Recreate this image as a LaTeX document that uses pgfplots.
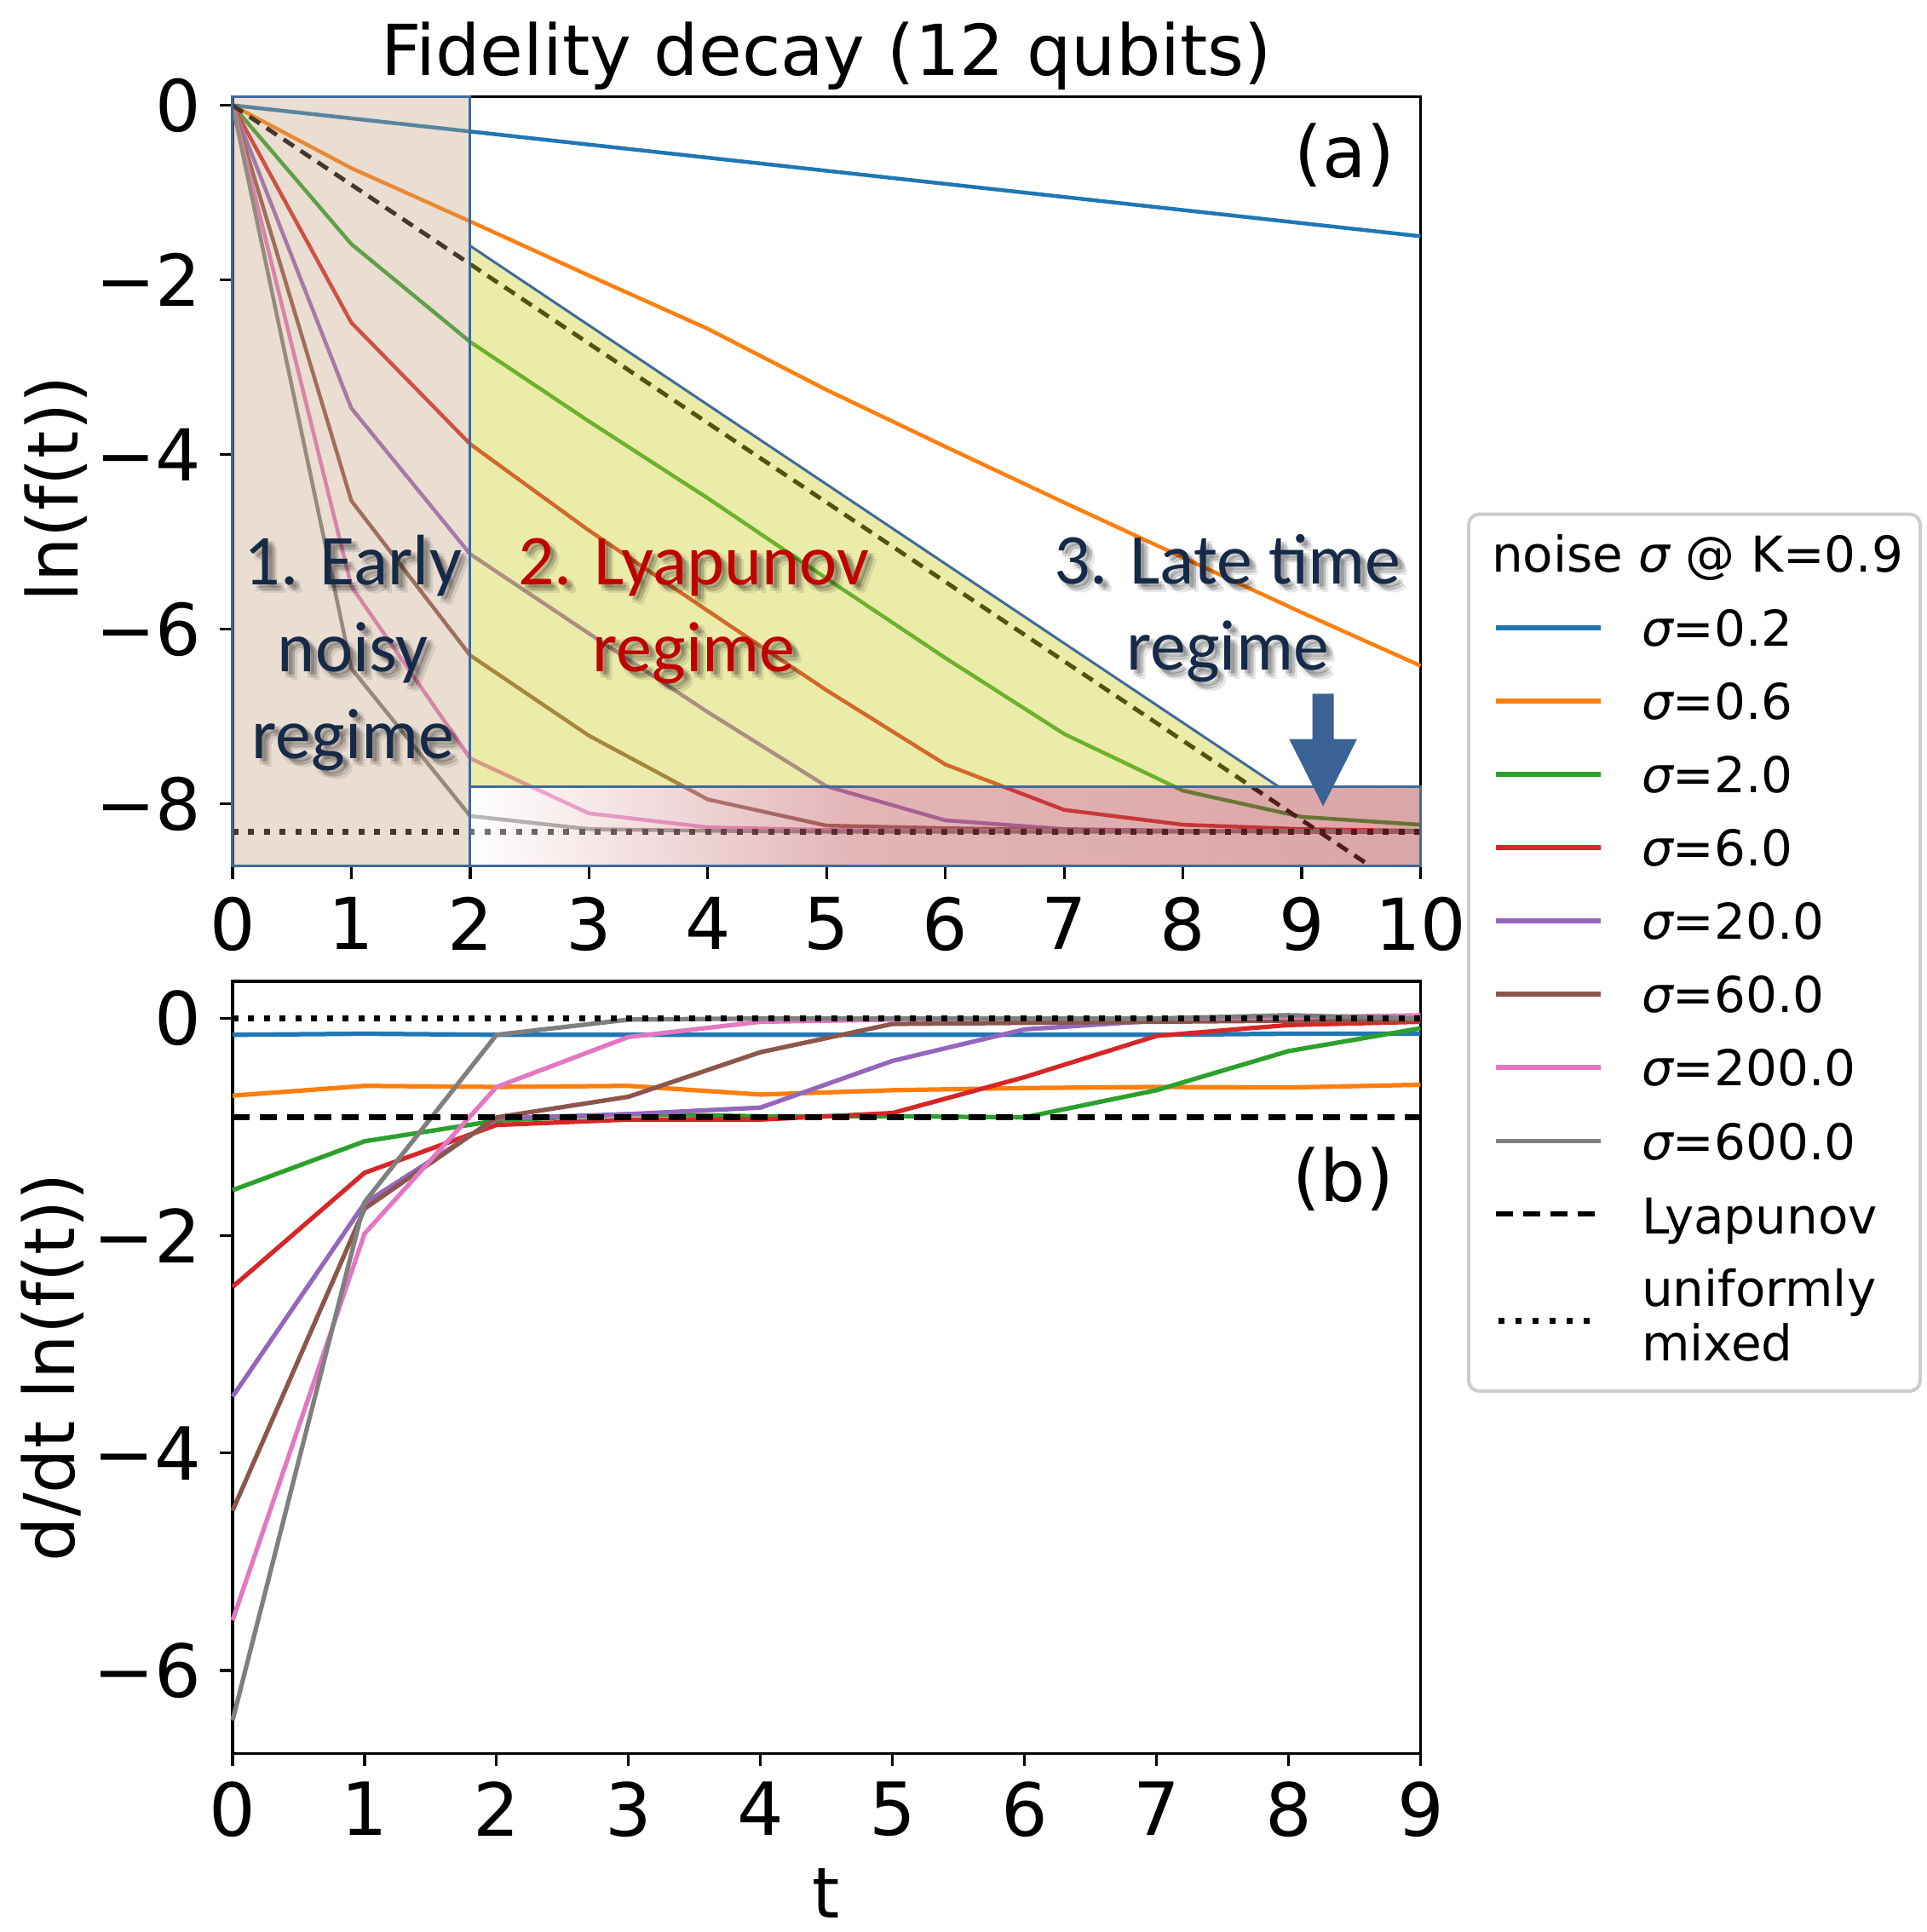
\documentclass[border=0pt]{standalone}
\usepackage{pgfplots}
\pgfplotsset{compat=1.18}
\usepackage{pgfplotstable}
\usepackage{fontspec}
\setmainfont{DejaVu Sans}
\newfontfamily\calibri{Carlito}

\definecolor{c0}{HTML}{1F77B4}
\definecolor{c1}{HTML}{FF7F0E}
\definecolor{c2}{HTML}{2CA02C}
\definecolor{c3}{HTML}{D62728}
\definecolor{c4}{HTML}{9467BD}
\definecolor{c5}{HTML}{8C564B}
\definecolor{c6}{HTML}{E377C2}
\definecolor{c7}{HTML}{7F7F7F}
\definecolor{bblue}{RGB}{62,106,156}
\definecolor{tanf}{RGB}{195,158,125}
\definecolor{yelf}{RGB}{205,205,43}
\definecolor{navy}{RGB}{22,42,72}
\definecolor{pptred}{RGB}{192,0,0}
\definecolor{arrowc}{RGB}{58,98,148}
\definecolor{legedge}{RGB}{204,204,204}

\pgfdeclarehorizontalshading{redgrad}{100bp}{rgb(0bp)=(1,1,1); rgb(25bp)=(1,1,1); rgb(45bp)=(0.76,0.36,0.38); rgb(75bp)=(0.68,0.22,0.22); rgb(100bp)=(0.68,0.22,0.22)}

\newcommand{\tickfontA}{\fontsize{16.8}{20}\selectfont}
\newcommand{\tickfontB}{\fontsize{17.2}{20}\selectfont}
\newcommand{\labfont}{\fontsize{16.5}{20}\selectfont}
\newcommand{\legfont}{\fontsize{11.6}{14}\selectfont}
\newcommand{\regfont}{\calibri\fontsize{16.8}{20}\selectfont}

% #1 x (pt), #2 y baseline (pt), #3 colour, #4 text
\newcommand{\stext}[4]{%
  \foreach \dx/\dy/\op in {0.9/-0.9/0.16, 1.5/-1.5/0.13, 2.1/-2.1/0.09, 1.6/-0.7/0.08, 0.7/-1.7/0.08}{%
    \node[anchor=base, inner sep=0pt, text=black, text opacity=\op, font=\regfont] at ({#1pt+\dx pt},{#2pt+\dy pt}) {#4};
  }%
  \node[anchor=base, inner sep=0pt, text=#3, font=\regfont] at (#1pt,#2pt) {#4};
}

% ln f(t) (panel a)
\pgfplotstableread{
t  s02    s06    s2     s6     s20    s60    s200   s600
0  0.00   0.00   0.00   0.00   0.00   0.00   0.00   0.00
1  -0.15  -0.72  -1.59  -2.49  -3.47  -4.53  -5.51  -6.45
2  -0.30  -1.33  -2.71  -3.88  -5.14  -6.30  -7.48  -8.14
3  -0.45  -1.95  -3.62  -4.87  -6.05  -7.22  -8.11  -8.29
4  -0.60  -2.56  -4.50  -5.79  -6.95  -7.95  -8.27  -8.31
5  -0.75  -3.26  -5.42  -6.70  -7.80  -8.25  -8.30  -8.32
6  -0.90  -3.91  -6.33  -7.55  -8.19  -8.28  -8.31  -8.32
7  -1.05  -4.55  -7.20  -8.07  -8.29  -8.30  -8.31  -8.32
8  -1.20  -5.18  -7.85  -8.24  -8.31  -8.31  -8.31  -8.32
9  -1.35  -5.81  -8.15  -8.29  -8.32  -8.32  -8.31  -8.31
10 -1.50  -6.42  -8.24  -8.31  -8.32  -8.32  -8.31  -8.31
}\toptab

% d/dt ln f(t) (panel b)
\pgfplotstableread{
t  s02    s06    s2     s6     s20    s60    s200   s600
0  -0.15  -0.71  -1.58  -2.47  -3.48  -4.53  -5.54  -6.46
1  -0.14  -0.62  -1.13  -1.42  -1.70  -1.75  -1.98  -1.69
2  -0.15  -0.63  -0.94  -0.98  -0.92  -0.91  -0.63  -0.15
3  -0.15  -0.62  -0.88  -0.93  -0.88  -0.72  -0.17  -0.01
4  -0.15  -0.70  -0.90  -0.93  -0.82  -0.31  -0.03  0.00
5  -0.15  -0.66  -0.90  -0.87  -0.39  -0.05  -0.01  0.00
6  -0.15  -0.64  -0.91  -0.54  -0.10  -0.04  0.00   0.00
7  -0.15  -0.63  -0.66  -0.16  -0.02  -0.03  0.00   0.00
8  -0.14  -0.635 -0.30  -0.06  -0.01  -0.02  0.01   0.03
9  -0.14  -0.61  -0.09  -0.03  0.00   -0.01  0.03   0.00
}\bottab

\pgfplotsset{
  commonax/.style={
    scale only axis, width=278.9pt,
    tick align=outside, tick pos=left, major tick length=3pt,
    major tick style={black, line width=0.65pt},
    minor tick num=0,
    axis line style={black, line width=0.65pt},
    clip=false,
    yticklabel style={inner sep=0pt, anchor=east, xshift=-4.2pt},
  },
}

\begin{document}
\begin{tikzpicture}
\path[use as bounding box] (0pt,0pt) rectangle (452.4pt,-453.6pt);

% ---------------- panel (a)
\begin{axis}[commonax,
  at={(54.6pt,-203.36pt)}, anchor=south west, height=180.7pt,
  xmin=0, xmax=10, ymin=-8.715, ymax=0.1,
  xtick={0,1,2,3,4,5,6,7,8,9,10},
  xticklabels={0,1,2,3,4,5,6,7,8,9,10},
  ytick={-8,-6,-4,-2,0},
  yticklabels={−8,−6,−4,−2,0},
  ticklabel style={font=\tickfontA},
  xticklabel style={inner sep=0pt, anchor=north, yshift=-4.1pt},
]
\addplot[c0, line width=0.9pt] table[x=t,y=s02] {\toptab};
\addplot[c1, line width=0.9pt] table[x=t,y=s06] {\toptab};
\addplot[c2, line width=0.9pt] table[x=t,y=s2] {\toptab};
\addplot[c3, line width=0.9pt] table[x=t,y=s6] {\toptab};
\addplot[c4, line width=0.9pt] table[x=t,y=s20] {\toptab};
\addplot[c5, line width=0.9pt] table[x=t,y=s60] {\toptab};
\addplot[c6, line width=0.9pt] table[x=t,y=s200] {\toptab};
\addplot[c7, line width=0.9pt] table[x=t,y=s600] {\toptab};
\addplot[black, line width=1pt, dash pattern=on 2.9pt off 1.9pt] coordinates {(0,0) (9.58,-8.715)};
\addplot[black, line width=1.4pt, dash pattern=on 1.4pt off 2.3pt] coordinates {(0,-8.318) (10,-8.318)};

% overlays
\fill[tanf, fill opacity=0.35] (axis cs:0,0.1) rectangle (axis cs:2,-8.715);
\fill[yelf, fill opacity=0.4] (axis cs:2,-1.61) -- (axis cs:8.8,-7.8) -- (axis cs:2,-7.8) -- cycle;
\shade[shading=redgrad, opacity=0.45] (axis cs:2,-7.8) rectangle (axis cs:10,-8.715);
\draw[bblue, line width=0.6pt] (axis cs:2,-1.61) -- (axis cs:8.8,-7.8);
\draw[bblue, line width=0.6pt] (axis cs:2,-7.8) rectangle (axis cs:10,-8.715);
\draw[bblue, line width=0.6pt] (axis cs:0,0.1) rectangle (axis cs:2,-8.715);
\fill[arrowc] (axis cs:9.09,-6.74) -- (axis cs:9.27,-6.74) -- (axis cs:9.27,-7.26) -- (axis cs:9.465,-7.26)
  -- (axis cs:9.18,-8.03) -- (axis cs:8.895,-7.26) -- (axis cs:9.09,-7.26) -- cycle;
\end{axis}

% ---------------- panel (b)
\begin{axis}[commonax,
  at={(54.6pt,-411.66pt)}, anchor=south west, height=181.26pt,
  xmin=0, xmax=9, ymin=-6.764, ymax=0.342,
  xtick={0,1,2,3,4,5,6,7,8,9},
  xticklabels={0,1,2,3,4,5,6,7,8,9},
  ytick={-6,-4,-2,0},
  yticklabels={−6,−4,−2,0},
  ticklabel style={font=\tickfontB},
  xticklabel style={inner sep=0pt, anchor=north, yshift=-3.5pt},
]
\addplot[c0, line width=1.05pt] table[x=t,y=s02] {\bottab};
\addplot[c1, line width=1.05pt] table[x=t,y=s06] {\bottab};
\addplot[c2, line width=1.05pt] table[x=t,y=s2] {\bottab};
\addplot[c3, line width=1.05pt] table[x=t,y=s6] {\bottab};
\addplot[c4, line width=1.05pt] table[x=t,y=s20] {\bottab};
\addplot[c5, line width=1.05pt] table[x=t,y=s60] {\bottab};
\addplot[c6, line width=1.05pt] table[x=t,y=s200] {\bottab};
\addplot[c7, line width=1.05pt] table[x=t,y=s600] {\bottab};
\addplot[black, line width=1.3pt, dash pattern=on 4pt off 2.4pt] coordinates {(0,-0.91) (9,-0.91)};
\addplot[black, line width=1.4pt, dash pattern=on 1.4pt off 2.3pt] coordinates {(0,0) (9,0)};
\end{axis}

% ---------------- titles, labels
\node[anchor=base, inner sep=0pt, font=\labfont] at (194pt,-17.66pt) {Fidelity decay (12 qubits)};
\node[anchor=base, inner sep=0pt, font=\labfont] at (194pt,-450.3pt) {t};
\node[rotate=90, anchor=base, inner sep=0pt, font=\labfont] at (18.4pt,-114.8pt) {ln(f(t))};
\node[rotate=90, anchor=base, inner sep=0pt, font=\labfont] at (17.6pt,-321pt) {d/dt ln(f(t))};
\node[anchor=base east, inner sep=0pt, font=\tickfontA] at (327.6pt,-41.7pt) {(a)};
\node[anchor=base east, inner sep=0pt, font=\tickfontA] at (327.4pt,-282pt) {(b)};

% ---------------- regime annotations
\stext{82.9}{-137.2}{navy}{1. Early}
\stext{82.9}{-157.6}{navy}{noisy}
\stext{82.9}{-178.0}{navy}{regime}
\stext{162.9}{-137.2}{pptred}{2. Lyapunov}
\stext{162.9}{-157.6}{pptred}{regime}
\stext{288.2}{-137.0}{navy}{3. Late time}
\stext{288.2}{-157.3}{navy}{regime}

% ---------------- legend
\draw[legedge, line width=0.8pt, fill=white, rounded corners=2.5pt] (344.8pt,-120.7pt) rectangle (450.8pt,-326.6pt);
\node[anchor=base west, inner sep=0pt, font=\legfont] at (350pt,-134.3pt) {noise {\itshape σ} @ K=0.9};
\foreach \col/\lab/\yy in {c0/0.2/-147.4, c1/0.6/-164.6, c2/2.0/-181.8, c3/6.0/-199.0, c4/20.0/-216.2, c5/60.0/-233.4, c6/200.0/-250.6, c7/600.0/-267.9}{
  \draw[\col, line width=1.05pt] (351.1pt,\yy pt) -- (375.7pt,\yy pt);
  \node[anchor=base west, inner sep=0pt, font=\legfont] at (385.2pt,{\yy pt-4.3pt}) {{\itshape σ}=\lab};
}
\draw[black, line width=1.3pt, dash pattern=on 4pt off 2.4pt] (351.1pt,-285pt) -- (375.7pt,-285pt);
\node[anchor=base west, inner sep=0pt, font=\legfont] at (385.2pt,-289.6pt) {Lyapunov};
\draw[black, line width=1.4pt, dash pattern=on 1.4pt off 2.6pt] (351.8pt,-310pt) -- (375.7pt,-310pt);
\node[anchor=base west, inner sep=0pt, font=\legfont] at (385.2pt,-306.7pt) {uniformly};
\node[anchor=base west, inner sep=0pt, font=\legfont] at (385.2pt,-319.5pt) {mixed};
\end{tikzpicture}
\end{document}
